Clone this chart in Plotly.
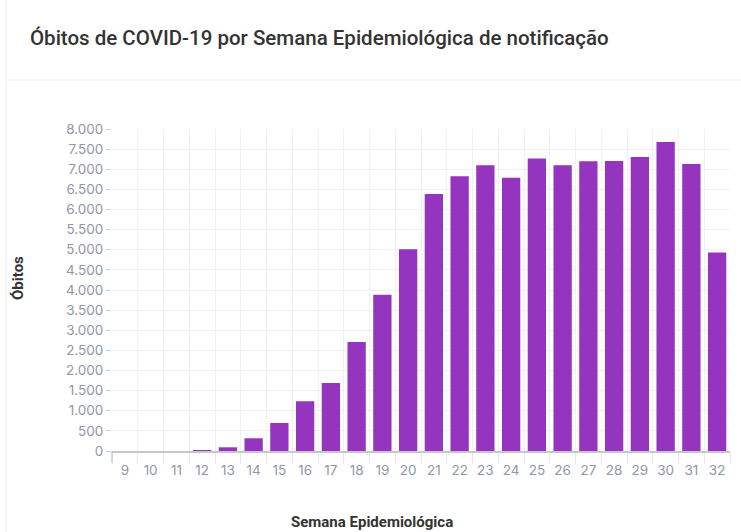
import plotly.graph_objects as go

semanas = [str(s) for s in range(9, 33)]
obitos = [0, 0, 0, 10, 92, 316, 697, 1236, 1692, 2711, 3881, 5012,
          6385, 6823, 7097, 6791, 7264, 7097, 7197, 7206, 7306, 7679, 7132, 4933]

titulo = "Óbitos de COVID-19 por Semana Epidemiológica de notificação"
y_titulo = "Óbitos"
x_titulo = "Semana Epidemiológica"

W, H = 741, 532
L, R, T, B = 112, 11, 129, 81
pw, ph = W - L - R, H - T - B

def px(x):
    return (x - L) / pw

def py(y):
    return (H - B - y) / ph

fig = go.Figure()
fig.add_trace(go.Bar(
    x=semanas, y=obitos,
    marker=dict(color="#9534be", line=dict(width=0)),
))

tickfont = dict(family="Inter, Roboto, sans-serif", size=13.5, color="#8f97a8")

fig.update_layout(
    width=W, height=H,
    margin=dict(l=L, r=R, t=T, b=B, pad=0),
    paper_bgcolor="white", plot_bgcolor="white",
    separators=",.",
    bargap=0.29,
    showlegend=False,
    title=dict(text=titulo, x=30 / W, xanchor="left", xref="container",
               y=1 - 38 / H, yanchor="middle", yref="container",
               font=dict(family="Roboto, sans-serif", size=20.5, weight=500,
                         color="#333333")),
    xaxis=dict(type="category", range=[-0.5, 23.5], tickson="boundaries",
               ticks="outside", ticklen=11, tickcolor="#e6e6ee", tickwidth=1,
               ticklabelstandoff=6, tickangle=0,
               showgrid=True, gridcolor="#efeff4", showline=True,
               linecolor="#c9c5cf", linewidth=1.5, tickfont=tickfont,
               fixedrange=True),
    yaxis=dict(range=[0, 8000], dtick=500, tickformat=",d", ticks="outside",
               ticklen=5, tickcolor="#d0d0d8", showgrid=True,
               gridcolor="#efeff4", zeroline=False, showline=False,
               tickfont=tickfont, fixedrange=True),
    annotations=[
        dict(text="<b>" + y_titulo + "</b>", xref="paper", yref="paper",
             x=px(18), y=py(278), textangle=-90, showarrow=False,
             xanchor="center", yanchor="middle",
             font=dict(family="Roboto, sans-serif", size=15, color="#333333")),
        dict(text="<b>" + x_titulo + "</b>", xref="paper", yref="paper",
             x=px(372), y=py(522), showarrow=False,
             xanchor="center", yanchor="middle",
             font=dict(family="Roboto, sans-serif", size=15, color="#333333")),
    ],
    shapes=[
        dict(type="line", xref="paper", yref="paper", x0=px(6), x1=px(W),
             y0=py(80), y1=py(80), line=dict(color="#eef0f4", width=1)),
        dict(type="line", xref="paper", yref="paper", x0=px(6), x1=px(6),
             y0=py(0), y1=py(H), line=dict(color="#e8ecf3", width=1)),
        dict(type="line", xref="paper", yref="paper", x0=0, x1=0,
             y0=0, y1=py(463), line=dict(color="#b8b8c0", width=1)),
    ],
)

fig.write_html(
    "out.html",
    config={"displayModeBar": False},
    post_script="document.body.style.margin='0';document.body.style.overflow='hidden';",
)
